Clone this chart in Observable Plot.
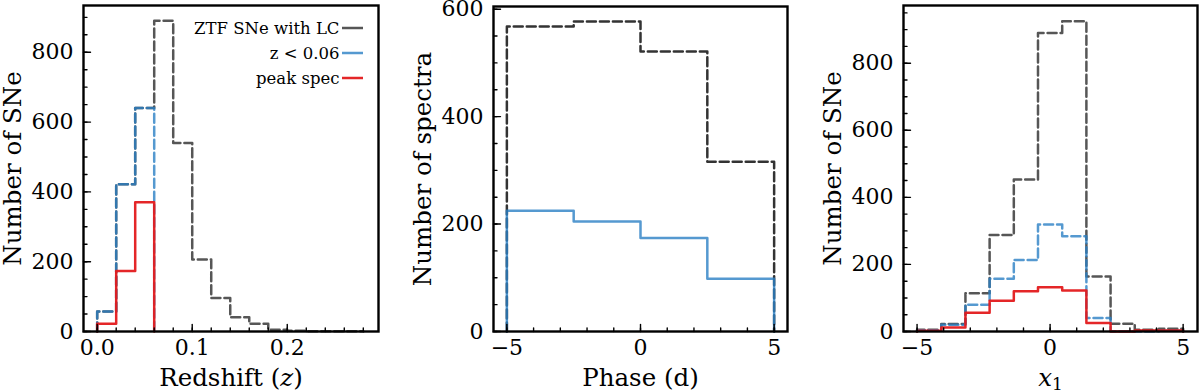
<!DOCTYPE html>
<html><head><meta charset="utf-8">
<script src="https://cdn.jsdelivr.net/npm/d3@7"></script>
<script src="https://cdn.jsdelivr.net/npm/@observablehq/plot@0.6"></script>
<style>
body{margin:0;background:#fff;}
#wrap{display:flex;width:1200px;height:391px;overflow:hidden;}
#wrap svg{font-family:"DejaVu Serif", serif;background:#fff;}
#wrap svg text{font-family:"DejaVu Serif", serif;}
</style></head><body><div id="wrap"></div>
<script>
// ---------- Panel 1: redshift ----------
const zEdges = [0.00,0.02,0.04,0.06,0.08,0.10,0.12,0.14,0.16,0.18,0.20,0.22,0.24,0.26,0.28];
const zAllCounts = [57,422,640,890,540,206,96,41,22,5,2,1,1,1];
const zLowEdges = [0.00,0.02,0.04,0.06];
const zLowCounts = [57,422,640];
const zPeakCounts = [22,173,370];
const zMajorTicks = [0.0,0.1,0.2];
const zCountTicks = [0,200,400,600,800];

// ---------- Panel 2: phase ----------
const phaseEdges = [-5,-2.5,0,2.5,5];
const phaseAllCounts = [568,577,521,316];
const phaseLowCounts = [225,205,174,98];
const phaseMajorTicks = [-5,0,5];
const phaseCountTicks = [0,200,400,600];

// ---------- Panel 3: x1 ----------
const x1Edges = [-5,-4.091,-3.182,-2.273,-1.364,-0.455,0.455,1.364,2.273,3.182,4.091,5];
const x1AllCounts = [5,22,114,288,453,890,925,164,23,5,8];
const x1LowCounts = [4,20,80,157,213,319,284,40,1,0,2];
const x1PeakCounts = [2,12,56,92,120,132,122,25,0,3,3];
const x1MajorTicks = [-5,0,5];
const x1CountTicks = [0,200,400,600,800];

const legendLabels = ["ZTF SNe with LC","z < 0.06","peak spec"];

const GRAY = "#4d4d4d", BLUE = "#2a80c4", RED = "#e31a1c";

function steps(edges, counts){
  const pts = [{x: edges[0], y: 0}];
  counts.forEach((c,i) => pts.push({x: edges[i], y: c}));
  pts.push({x: edges[edges.length-1], y: counts[counts.length-1]});
  pts.push({x: edges[edges.length-1], y: 0});
  return pts;
}
const fmtNum = d => (d < 0 ? "\u2212" + Math.abs(d) : String(d));
const tickShape = {draw(ctx, l){ ctx.moveTo(0,0); ctx.lineTo(0,-l); }};

function tickMarks(xMajor, xMinor, yMajor, yMinor){
  const common = {stroke:"black", strokeWidth:1.4, anchor:"start", shape: tickShape};
  return [
    Plot.vector(xMinor, {x: d=>d, frameAnchor:"bottom", rotate:0, length:3.5, ...common}),
    Plot.vector(xMajor, {x: d=>d, frameAnchor:"bottom", rotate:0, length:7, ...common}),
    Plot.vector(yMinor, {y: d=>d, frameAnchor:"left", rotate:90, length:3.5, ...common}),
    Plot.vector(yMajor, {y: d=>d, frameAnchor:"left", rotate:90, length:7, ...common})
  ];
}
function axes(xTicks, yTicks, xFmt, xLabel, yLabel, xCls){
  return [
    Plot.text(xTicks, {x:d=>d, text:xFmt, frameAnchor:"bottom", dy:16, fontSize:22, fill:"black", lineAnchor:"middle", textAnchor:"middle"}),
    Plot.text(yTicks, {y:d=>d, text:fmtNum, frameAnchor:"left", dx:-10, fontSize:22, fill:"black", lineAnchor:"middle", textAnchor:"end"}),
    Plot.text([xLabel], {text:d=>d, frameAnchor:"bottom", dy:47, fontSize:24.5, fill:"black", lineAnchor:"middle", textAnchor:"middle", className:xCls}),
    Plot.text([yLabel], {text:d=>d, frameAnchor:"left", dx:-70, rotate:-90, fontSize:24.5, fill:"black", lineAnchor:"middle", textAnchor:"middle"}),
    Plot.frame({stroke:"black", strokeWidth:2.4})
  ];
}

// Panel 1
const p1 = Plot.plot({
  width:400, height:391, marginLeft:83, marginRight:22, marginTop:5, marginBottom:60,
  x:{domain:[-0.0144,0.296], axis:null}, y:{domain:[0,934], axis:null},
  marks:[
    Plot.line(steps(zEdges, zAllCounts), {x:"x", y:"y", curve:"step-after", stroke:GRAY, strokeWidth:2.5, strokeDasharray:"9,4", strokeOpacity:0.95}),
    Plot.line(steps(zLowEdges, zLowCounts), {x:"x", y:"y", curve:"step-after", stroke:BLUE, strokeWidth:2.5, strokeDasharray:"9,4", strokeOpacity:0.8}),
    Plot.line(steps(zLowEdges, zPeakCounts), {x:"x", y:"y", curve:"step-after", stroke:RED, strokeWidth:2.5, strokeOpacity:0.95}),
    ...tickMarks(zMajorTicks, d3.range(0,0.2801,0.02), zCountTicks, d3.range(0,901,50)),
    ...axes(zMajorTicks, zCountTicks, d3.format(".1f"), "Redshift (z)", "Number of SNe", "xlab-z"),
    Plot.text(legendLabels, {text:d=>d, frameAnchor:"top-right", textAnchor:"end", fontSize:16.5, fill:"black", lineAnchor:"middle", className:"legtext"}),
  ]
});

// Panel 2
const p2 = Plot.plot({
  width:400, height:391, marginLeft:93, marginRight:13, marginTop:6, marginBottom:60,
  x:{domain:[-5.5,5.5], axis:null}, y:{domain:[0,605], axis:null},
  marks:[
    Plot.line(steps(phaseEdges, phaseAllCounts), {x:"x", y:"y", curve:"step-after", stroke:"#333", strokeWidth:2.5, strokeDasharray:"9,4"}),
    Plot.line(steps(phaseEdges, phaseLowCounts), {x:"x", y:"y", curve:"step-after", stroke:BLUE, strokeWidth:2.5, strokeOpacity:0.8}),
    ...tickMarks(phaseMajorTicks, d3.range(-5,5.01,1), phaseCountTicks, d3.range(0,601,50)),
    ...axes(phaseMajorTicks, phaseCountTicks, fmtNum, "Phase (d)", "Number of spectra", "xlab-p")
  ]
});

// Panel 3
const p3 = Plot.plot({
  width:400, height:391, marginLeft:103, marginRight:3, marginTop:5, marginBottom:60,
  x:{domain:[-5.51,5.54], axis:null}, y:{domain:[0,972], axis:null},
  marks:[
    Plot.line(steps(x1Edges, x1AllCounts), {x:"x", y:"y", curve:"step-after", stroke:GRAY, strokeWidth:2.5, strokeDasharray:"9,4", strokeOpacity:0.95}),
    Plot.line(steps(x1Edges, x1LowCounts), {x:"x", y:"y", curve:"step-after", stroke:BLUE, strokeWidth:2.5, strokeDasharray:"9,4", strokeOpacity:0.8}),
    Plot.line(steps(x1Edges, x1PeakCounts), {x:"x", y:"y", curve:"step-after", stroke:RED, strokeWidth:2.5, strokeOpacity:0.95}),
    ...tickMarks(x1MajorTicks, d3.range(-5,5.01,1), x1CountTicks, d3.range(0,951,50)),
    ...axes(x1MajorTicks, x1CountTicks, fmtNum, "x1", "Number of SNe", "xlab-x1")
  ]
});

const wrap = document.getElementById("wrap");
[p1,p2,p3].forEach(p => wrap.appendChild(p));

// Legend layout (entries stacked at the top right of the left panel)
const legColors = [GRAY, BLUE, RED];
const svg1 = d3.select(p1);
svg1.selectAll(".legtext text").each(function(d,i){
  const t = d3.select(this);
  const y = 5 + 23 + 25*i;
  t.attr("transform", null).attr("x", 339).attr("y", y).attr("dy","0.35em");
  svg1.append("line").attr("x1",342).attr("x2",363).attr("y1",y).attr("y2",y)
    .attr("stroke", legColors[i]).attr("stroke-width",2.5).attr("stroke-opacity", i===1?0.8:0.95);
});

// Italic math in x labels
function italicize(svg, cls, parts){
  const t = d3.select(svg).select("." + cls + " text");
  t.text(null);
  parts.forEach(p => {
    const s = t.append("tspan").text(p.t);
    if (p.i) s.attr("font-style","italic");
    if (p.sub) s.attr("font-size", 17).attr("dy", "0.2em");
  });
}
italicize(p1, "xlab-z", [{t:"Redshift ("},{t:"z", i:true},{t:")"}]);
italicize(p3, "xlab-x1", [{t:"x", i:true},{t:"1", sub:true}]);
</script></body></html>
